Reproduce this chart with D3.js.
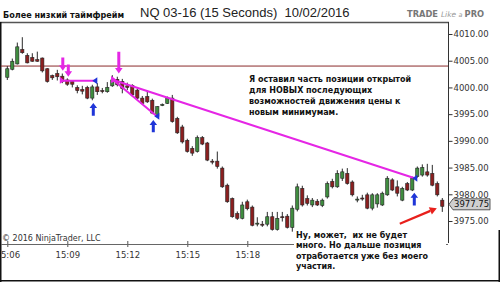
<!DOCTYPE html>
<html><head><meta charset="utf-8">
<script src="https://cdn.jsdelivr.net/npm/d3@7"></script>
<style>html,body{margin:0;padding:0;background:#fff;overflow:hidden;} svg{display:block;} text{white-space:pre;}</style>
</head><body>
<svg id="c" width="500" height="282"></svg>
<script>
// ---- data (15-second bars, 15:06:00 onward) ----
const opens = [4001.9,4003.4,4004.4,4007.1,4006.0,4005.6,4005.2,4005.5,4003.5,4002.2,
4002.6,4002.1,4001.4,4001.1,4000.0,3999.6,4000.0,3998.0,4000.1,3999.4,
3999.2,4000.3,4001.5,4001.1,4000.3,4000.4,3999.5,3998.0,3998.3,3997.6,
3994.6,3996.8,3997.0,3998.0,3994.2,3992.6,3990.1,3988.6,3988.0,3990.6,
3989.6,3986.2,3986.2,3984.9,3981.7,3979.2,3976.4,3975.5,3978.6,3977.6,
3974.5,3974.4,3974.4,3975.8,3973.4,3975.8,3975.9,3973.8,3977.2,3981.1,
3979.2,3978.0,3978.7,3977.9,3979.5,3982.4,3981.4,3983.0,3983.9,3982.3,
3979.0,3979.3,3979.9,3977.4,3978.2,3978.0,3979.9,3982.7,3981.4,3978.9,
3982.0,3980.8,3983.3,3983.6,3984.2,3983.9,3982.0,3978.9];
const highs = [4004.0,4005.4,4008.4,4009.4,4006.4,4006.4,4006.7,4005.6,4003.6,4002.4,
4003.3,4002.6,4001.7,4001.2,4000.4,4000.3,4000.3,4000.5,4000.8,3999.9,
4001.0,4002.3,4002.0,4001.6,4000.9,4000.6,3999.8,3998.4,3999.4,3997.9,
3996.5,3997.0,3998.3,3998.6,3994.5,3993.0,3990.4,3989.0,3991.0,3990.9,
3989.8,3986.6,3988.0,3985.2,3982.0,3979.4,3976.8,3978.6,3979.0,3977.9,
3975.7,3975.0,3976.7,3976.7,3976.7,3976.7,3976.3,3977.9,3982.0,3981.6,
3979.8,3979.3,3979.1,3979.2,3982.4,3982.9,3984.5,3984.8,3984.9,3982.6,
3979.6,3979.9,3980.3,3980.2,3980.2,3980.5,3983.4,3983.0,3982.6,3981.4,
3982.3,3983.3,3985.2,3985.6,3985.7,3985.5,3982.4,3979.3];
const lows = [4001.4,4003.2,4004.3,4006.3,4004.5,4004.8,4004.8,4002.8,4000.9,4001.4,
4001.3,4000.8,4000.3,4000.0,3998.9,3998.7,3997.8,3997.6,3998.6,3998.9,
3999.0,4000.1,4000.2,3998.9,3999.5,3998.3,3997.8,3996.8,3997.1,3995.0,
3994.4,3996.5,3996.9,3993.4,3991.3,3989.5,3987.8,3987.2,3987.8,3989.2,
3986.2,3985.6,3984.8,3981.2,3978.4,3975.6,3975.2,3975.3,3977.0,3974.0,
3974.0,3973.9,3974.0,3973.2,3973.2,3974.9,3973.6,3973.0,3976.8,3977.7,
3977.9,3977.6,3977.8,3977.6,3979.2,3981.1,3981.2,3982.5,3981.8,3979.6,
3978.5,3978.8,3977.2,3977.0,3977.5,3977.8,3979.7,3980.6,3979.6,3978.7,
3980.6,3980.6,3983.1,3983.3,3983.3,3981.5,3979.6,3976.7];
const closes = [4003.5,4004.9,4007.6,4006.5,4004.6,4004.9,4004.9,4003.1,4001.1,4001.8,
4002.0,4001.1,4000.6,4000.6,3999.4,3999.3,3998.0,4000.1,3999.2,3999.3,
4000.0,4001.4,4000.5,3999.8,4000.0,3998.6,3998.0,3997.0,3997.3,3995.2,
3996.4,3996.8,3998.0,3993.6,3991.5,3989.8,3988.0,3987.7,3990.6,3989.4,
3986.4,3986.1,3985.2,3981.4,3978.6,3975.8,3975.5,3978.0,3977.3,3974.2,
3974.6,3974.3,3975.8,3973.4,3975.5,3975.7,3973.8,3977.4,3981.4,3978.0,
3978.3,3978.9,3978.0,3978.9,3982.0,3981.4,3983.9,3984.2,3982.0,3979.9,
3979.1,3979.2,3977.4,3979.9,3979.9,3980.2,3983.0,3980.8,3980.2,3981.1,
3980.8,3983.0,3984.9,3985.0,3983.6,3981.7,3979.9,3977.75];
const timeTickIdx = [0,12,24,36,48];
const timeTickLabels = ["15:06","15:09","15:12","15:15","15:18"];
const priceTicks = [3975,3980,3985,3990,3995,4000,4005,4010];
const lastPrice = 3977.75;
const refLevel = 4004.0;
// annotations in data units [barIndex, price]
const magentaLines = [[21.2,4001.4,81.5,3983.0],[21.2,4001.4,29.9,3994.6],[10.9,4001.25,17.5,4001.25]];
const magentaDown = [[11.1,4005.6,4003.1],[12.2,4004.3,4002.0],[22.3,4006.7,4002.6]];
const blueUp = [[17.2,3994.7,3997.1],[29.2,3991.6,3993.9],[81.4,3977.9,3980.3]];
const blueHeads = [[17.5,4001.25],[29.9,3994.6],[81.5,3983.0]];
const redArrow = [78.5,3974.5,85.9,3977.4];
const note1 = ["Я оставил часть позиции открытой","для НОВЫХ последующих","возможностей движения цены к","новым минимумам."];
const note2 = ["Ну, может,  их не будет","много. Но дальше позиция","отработается уже без моего","участия."];

const svg = d3.select('#c');
const F = 'DejaVu Sans, Verdana, sans-serif';
const x = d3.scaleLinear().domain([0,87]).range([7.3,442.3]);
const y = d3.scaleLinear().domain([3975,4010]).range([221,34]);

// header
svg.append('text').attr('x',3).attr('y',18).attr('font-family',F).attr('font-weight','bold')
  .attr('font-size',8.1).attr('fill','#111').text('Более низкий таймфрейм');
svg.append('text').attr('x',140).attr('y',16.5).attr('font-family','Liberation Sans, Arial, sans-serif')
  .attr('font-size',13).attr('fill','#222').text('NQ 03-16 (15 Seconds)  10/02/2016');
const tl = svg.append('text').attr('x',407).attr('y',17).attr('font-family',F).attr('font-size',8.3).attr('fill','#777');
tl.append('tspan').attr('font-weight','bold').text('TRADE ');
tl.append('tspan').attr('font-style','italic').attr('font-size',7.5).attr('fill','#9a9a9a').text('Like ');
tl.append('tspan').attr('font-style','italic').attr('font-size',6.5).attr('fill','#9a9a9a').text('a ');
tl.append('tspan').attr('font-weight','bold').text('PRO');

// frame
svg.append('line').attr('x1',0).attr('x2',449).attr('y1',22.5).attr('y2',22.5).attr('stroke','#555').attr('stroke-width',1.5);
svg.append('line').attr('x1',0.75).attr('x2',0.75).attr('y1',22).attr('y2',282).attr('stroke','#111').attr('stroke-width',1.5);
svg.append('line').attr('x1',0).attr('x2',500).attr('y1',280.75).attr('y2',280.75).attr('stroke','#111').attr('stroke-width',1.5);
svg.append('line').attr('x1',499.25).attr('x2',499.25).attr('y1',230).attr('y2',282).attr('stroke','#111').attr('stroke-width',1.5);

// reference level line
svg.append('line').attr('x1',1).attr('x2',448).attr('y1',y(refLevel)).attr('y2',y(refLevel))
  .attr('stroke','#8b2a2a').attr('stroke-width',1);

// y axis (right)
const ya = svg.append('g').attr('transform','translate(448.5,0)')
  .call(d3.axisRight(y).tickValues(priceTicks).tickFormat(d=>d.toFixed(2)).tickSize(4).tickPadding(1));
ya.select('.domain').remove();
ya.selectAll('line').attr('stroke','#333');
ya.selectAll('text').attr('font-family',F).attr('font-size',8.5).attr('fill','#333');
svg.append('line').attr('x1',448.5).attr('x2',448.5).attr('y1',22).attr('y2',243).attr('stroke','#333').attr('stroke-width',1);

// x axis
const xa = svg.append('g').attr('transform','translate(0,244)')
  .call(d3.axisBottom(x).tickValues(timeTickIdx).tickFormat((d,i)=>timeTickLabels[i]).tickSize(3).tickPadding(5));
xa.select('.domain').remove();
xa.selectAll('.tick line').attr('y1',-3).attr('stroke','#555');
xa.selectAll('text').attr('font-family',F).attr('font-size',8.5).attr('fill','#333');
svg.append('line').attr('x1',1).attr('x2',448).attr('y1',244.5).attr('y2',244.5).attr('stroke','#666').attr('stroke-width',1);

svg.append('text').attr('x',2).attr('y',241).attr('font-family',F).attr('font-size',8).attr('fill','#333').text('© 2016 NinjaTrader, LLC');

// candles
const data = opens.map((o,i)=>({i,o,h:highs[i],l:lows[i],c:closes[i]}));
const cg = svg.append('g');
cg.selectAll('line').data(data).join('line')
  .attr('x1',d=>x(d.i)).attr('x2',d=>x(d.i)).attr('y1',d=>y(d.h)).attr('y2',d=>y(d.l))
  .attr('stroke','#2a2a2a').attr('stroke-width',1);
cg.selectAll('rect').data(data).join('rect')
  .attr('x',d=>x(d.i)-1.6).attr('width',3.2)
  .attr('y',d=>y(Math.max(d.o,d.c))).attr('height',d=>Math.max(1,Math.abs(y(d.o)-y(d.c))))
  .attr('fill',d=>d.c>=d.o?'#3f8c3f':'#8a1f1f').attr('stroke','#222').attr('stroke-width',0.6);

// magenta lines
const MAG = '#e526e5', BLUE = '#1f35d8';
svg.append('g').selectAll('line').data(magentaLines).join('line')
  .attr('x1',d=>x(d[0])).attr('y1',d=>y(d[1])).attr('x2',d=>x(d[2])).attr('y2',d=>y(d[3]))
  .attr('stroke',MAG).attr('stroke-width',2);
svg.append('g').selectAll('path').data(magentaLines).join('path')
  .attr('d',d=>{const px=x(d[0]),py=y(d[1]);return `M${px-2},${py-4}L${px+3},${py}L${px-2},${py+3}Z`;})
  .attr('fill',MAG);

function vArrow(px, yTail, yTip, hw, sw, hl){
  const s = Math.sign(yTip-yTail);
  const yb = yTip - s*hl;
  return `M${px-sw},${yTail}L${px+sw},${yTail}L${px+sw},${yb}L${px+hw},${yb}L${px},${yTip}L${px-hw},${yb}L${px-sw},${yb}Z`;
}
svg.append('g').selectAll('path').data(magentaDown).join('path')
  .attr('d',d=>vArrow(x(d[0]),y(d[1]),y(d[2]),3.8,1.5,5.5)).attr('fill',MAG);
svg.append('g').selectAll('path').data(blueUp).join('path')
  .attr('d',d=>vArrow(x(d[0]),y(d[1]),y(d[2]),3.8,1.5,5)).attr('fill',BLUE);
svg.append('g').selectAll('path').data(blueHeads).join('path')
  .attr('d',d=>{const px=x(d[0]),py=y(d[1]);return `M${px-2.5},${py}L${px+2.5},${py-3.5}L${px+2.5},${py+3.5}Z`;})
  .attr('fill',BLUE);

// red arrow
const rx1=x(redArrow[0]), ry1=y(redArrow[1]), rx2=x(redArrow[2]), ry2=y(redArrow[3]);
const ang = Math.atan2(ry2-ry1, rx2-rx1);
const hb = 7, hw2 = 4;
const bx = rx2 - hb*Math.cos(ang), by = ry2 - hb*Math.sin(ang);
svg.append('line').attr('x1',rx1).attr('y1',ry1).attr('x2',bx).attr('y2',by).attr('stroke','#e8201c').attr('stroke-width',2.2);
svg.append('path').attr('d',`M${rx2},${ry2}L${bx - hw2*Math.sin(ang)},${by + hw2*Math.cos(ang)}L${bx + hw2*Math.sin(ang)},${by - hw2*Math.cos(ang)}Z`).attr('fill','#e8201c');

// last price marker
const my = y(lastPrice) - 2;
svg.append('path').attr('d',`M449,${my}L453,${my-5.5}L490,${my-5.5}L490,${my+5.5}L453,${my+5.5}Z`)
  .attr('fill','#cfcfcf').attr('stroke','#333').attr('stroke-width',0.8);
svg.append('text').attr('x',454).attr('y',my+3).attr('font-family',F).attr('font-size',8.5).attr('fill','#111').text(lastPrice.toFixed(2));

// notes
const n1 = svg.append('g');
note1.forEach((t,k)=>n1.append('text').attr('x',249).attr('y',81.5+k*11).attr('font-family',F)
  .attr('font-weight','bold').attr('font-size',8).attr('fill','#111').text(t));
svg.append('rect').attr('x',294).attr('y',228).attr('width',152).attr('height',44).attr('fill','#fff');
const n2 = svg.append('g');
note2.forEach((t,k)=>n2.append('text').attr('x',296).attr('y',237.5+k*10.5).attr('font-family',F)
  .attr('font-weight','bold').attr('font-size',8).attr('fill','#111').text(t));
</script>
</body></html>
